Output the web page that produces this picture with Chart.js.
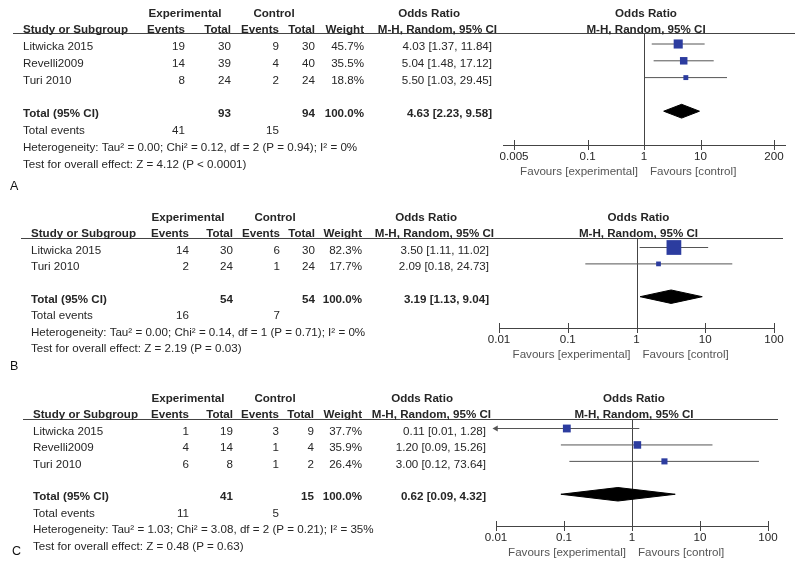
<!DOCTYPE html>
<html>
<head>
<meta charset="utf-8">
<script src="https://cdn.jsdelivr.net/npm/chart.js@4.4.1/dist/chart.umd.min.js"></script>
<style>
  body { margin: 0; background: #fff; }
  #wrap { position: relative; width: 800px; height: 563px; overflow: hidden; }
  #wrap canvas { position: absolute; left: 0; }
</style>
</head>
<body>
<div id="wrap">
  <canvas id="cvA" width="800" height="195" style="top:0px"></canvas>
  <canvas id="cvB" width="800" height="180" style="top:195px"></canvas>
  <canvas id="cvC" width="800" height="188" style="top:375px"></canvas>
</div>
<script>
// ---- Panel A ----
const studiesA   = ["Litwicka 2015", "Revelli2009", "Turi 2010"];
const expEventsA = [19, 14, 8];
const expTotalA  = [30, 39, 24];
const ctlEventsA = [9, 4, 2];
const ctlTotalA  = [30, 40, 24];
const weightA    = [45.7, 35.5, 18.8];
const orA        = [4.03, 5.04, 5.50];
const loA        = [1.37, 1.48, 1.03];
const hiA        = [11.84, 17.12, 29.45];
const totalsA    = [41, 93, 15, 94];          // exp events, exp total, ctl events, ctl total
const pooledA    = [4.63, 2.23, 9.58];        // OR, lower, upper
const hetA       = "Heterogeneity: Tau² = 0.00; Chi² = 0.12, df = 2 (P = 0.94); I² = 0%";
const testA      = "Test for overall effect: Z = 4.12 (P < 0.0001)";
const ticksA     = [0.005, 0.1, 1, 10, 200];
const tickLabA   = ["0.005", "0.1", "1", "10", "200"];

// ---- Panel B ----
const studiesB   = ["Litwicka 2015", "Turi 2010"];
const expEventsB = [14, 2];
const expTotalB  = [30, 24];
const ctlEventsB = [6, 1];
const ctlTotalB  = [30, 24];
const weightB    = [82.3, 17.7];
const orB        = [3.50, 2.09];
const loB        = [1.11, 0.18];
const hiB        = [11.02, 24.73];
const totalsB    = [16, 54, 7, 54];
const pooledB    = [3.19, 1.13, 9.04];
const hetB       = "Heterogeneity: Tau² = 0.00; Chi² = 0.14, df = 1 (P = 0.71); I² = 0%";
const testB      = "Test for overall effect: Z = 2.19 (P = 0.03)";
const ticksB     = [0.01, 0.1, 1, 10, 100];
const tickLabB   = ["0.01", "0.1", "1", "10", "100"];

// ---- Panel C ----
const studiesC   = ["Litwicka 2015", "Revelli2009", "Turi 2010"];
const expEventsC = [1, 4, 6];
const expTotalC  = [19, 14, 8];
const ctlEventsC = [3, 1, 1];
const ctlTotalC  = [9, 4, 2];
const weightC    = [37.7, 35.9, 26.4];
const orC        = [0.11, 1.20, 3.00];
const loC        = [0.01, 0.09, 0.12];
const hiC        = [1.28, 15.26, 73.64];
const totalsC    = [11, 41, 5, 15];
const pooledC    = [0.62, 0.09, 4.32];
const hetC       = "Heterogeneity: Tau² = 1.03; Chi² = 3.08, df = 2 (P = 0.21); I² = 35%";
const testC      = "Test for overall effect: Z = 0.48 (P = 0.63)";
const ticksC     = ticksB;
const tickLabC   = tickLabB;

const BLUE  = "#2c3c9f";
const LINE  = "#555";
const AXIS  = "#444";
const INK   = "#262626";
const MUTED = "#555";
const FONT  = '"Liberation Sans", Arial, sans-serif';
const FSIZE = 11.6;
const X_AXIS_H = 20;

const fmt    = (v) => v.toFixed(2);
const ciText = (o, l, h) => `${fmt(o)} [${fmt(l)}, ${fmt(h)}]`;

function tablePlugin(p) {
  return {
    id: "tabla" + p.label,
    beforeDatasetsDraw(chart) {
      const { ctx, chartArea: a, scales: { x } } = chart;
      const one = Math.round(x.getPixelForValue(1)) + 0.5;
      ctx.save();
      ctx.strokeStyle = AXIS;
      ctx.lineWidth = 1;
      ctx.beginPath();
      ctx.moveTo(one, a.top); ctx.lineTo(one, a.bottom);
      ctx.moveTo(p.lineL, Math.round(a.top) + 0.5); ctx.lineTo(p.lineR, Math.round(a.top) + 0.5);
      ctx.stroke();
      ctx.restore();
    },
    afterDraw(chart) {
      const { ctx, chartArea: a, scales: { x, y } } = chart;
      const one = x.getPixelForValue(1);
      const n = p.studies.length;
      const rowY = (i) => y.getPixelForValue(i) + 3;
      const put = (t, px, py, align, bold, color) => {
        ctx.font = `${bold ? "bold " : ""}${FSIZE}px ${FONT}`;
        ctx.fillStyle = color || INK;
        ctx.textAlign = align;
        ctx.textBaseline = "middle";
        ctx.fillText(t, px, py);
      };
      const c = p.cols;
      ctx.save();

      // marcas del eje
      ctx.strokeStyle = AXIS;
      ctx.lineWidth = 1;
      ctx.beginPath();
      x.ticks.forEach((t) => {
        const px = Math.round(x.getPixelForValue(t.value)) + 0.5;
        ctx.moveTo(px, a.bottom - 5); ctx.lineTo(px, a.bottom + 5);
      });
      ctx.stroke();

      // cabeceras
      let yy = rowY(-2);
      put("Experimental", p.expHdX, yy, "center", true);
      put("Control", p.ctlHdX, yy, "center", true);
      put("Odds Ratio", p.orHd[0], yy, "right", true);
      put("Odds Ratio", one + 2, yy, "center", true);
      yy = rowY(-1);
      put("Study or Subgroup", p.studyX, yy, "left", true);
      ["Events", "Total", "Events", "Total", "Weight"].forEach((h, k) => put(h, c[k], yy, "right", true));
      put("M-H, Random, 95% CI", p.orHd[1], yy, "right", true);
      put("M-H, Random, 95% CI", one + 2, yy, "center", true);

      // estudios
      p.studies.forEach((s, i) => {
        const ry = rowY(i);
        put(s, p.studyX, ry, "left");
        put(String(p.expEvents[i]), c[0], ry, "right");
        put(String(p.expTotal[i]),  c[1], ry, "right");
        put(String(p.ctlEvents[i]), c[2], ry, "right");
        put(String(p.ctlTotal[i]),  c[3], ry, "right");
        put(p.weight[i].toFixed(1) + "%", c[4], ry, "right");
        put(ciText(p.or[i], p.lo[i], p.hi[i]), c[5], ry, "right");
      });

      // totales
      yy = rowY(n + 1);
      put("Total (95% CI)", p.studyX, yy, "left", true);
      put(String(p.totals[1]), c[1], yy, "right", true);
      put(String(p.totals[3]), c[3], yy, "right", true);
      put("100.0%", c[4], yy, "right", true);
      put(ciText(...p.pooled), c[5], yy, "right", true);
      yy = rowY(n + 2);
      put("Total events", p.studyX, yy, "left");
      put(String(p.totals[0]), c[0], yy, "right");
      put(String(p.totals[2]), c[2], yy, "right");
      put(p.het, p.studyX, rowY(n + 3), "left");
      put(p.test, p.studyX, rowY(n + 4), "left");

      // favours
      put("Favours [experimental]", one - 6, a.bottom + 27, "right", false, MUTED);
      put("Favours [control]", one + 6, a.bottom + 27, "left", false, MUTED);

      // letra del panel
      ctx.font = `12.5px ${FONT}`;
      ctx.fillStyle = "#111";
      ctx.textAlign = "left";
      ctx.textBaseline = "middle";
      ctx.fillText(p.label, p.labelX, p.labelY - p.top);
      ctx.restore();
    },
  };
}

function renderPanel(id, p) {
  const n = p.studies.length;
  const yMin = -(p.row0Y - p.headerY) / p.rowH;
  const yMax = (p.axisY - p.row0Y) / p.rowH;
  const pooledRow = n + 1;
  const half = 0.41;

  const datasets = [
    {
      type: "scatter", data: p.or.map((v, i) => ({ x: v, y: i })),
      pointStyle: "rect", pointRadius: p.weight.map((w) => (2 + 0.155 * w) / Math.SQRT2),
      backgroundColor: BLUE, borderWidth: 0, order: 0, clip: false,
    },
    {
      type: "line", showLine: true, fill: "shape", tension: 0,
      data: [
        { x: p.pooled[1], y: pooledRow },
        { x: p.pooled[0], y: pooledRow - half },
        { x: p.pooled[2], y: pooledRow },
        { x: p.pooled[0], y: pooledRow + half },
        { x: p.pooled[1], y: pooledRow },
      ],
      borderColor: "#000", backgroundColor: "#000", borderWidth: 1, pointRadius: 0, order: 1,
    },
  ];
  p.or.forEach((v, i) => {
    const cut = p.lo[i] <= p.xMin;
    datasets.push({
      type: "line", showLine: true, fill: false,
      data: [{ x: Math.max(p.lo[i], p.xMin), y: i }, { x: p.hi[i], y: i }],
      borderColor: LINE, borderWidth: 1,
      pointRadius: [cut ? 3.5 : 0, 0], pointStyle: "triangle", rotation: -90,
      pointBackgroundColor: LINE, pointBorderWidth: 0, order: 2, clip: false,
    });
  });

  new Chart(document.getElementById(id), {
    type: "scatter",
    data: { datasets },
    plugins: [tablePlugin(p)],
    options: {
      responsive: false, animation: false, events: [],
      layout: {
        padding: {
          left: p.areaL, right: 800 - p.areaR,
          top: p.headerY - p.top,
          bottom: p.top + p.height - p.axisY - X_AXIS_H,
        },
      },
      plugins: { legend: { display: false }, tooltip: { enabled: false } },
      scales: {
        x: {
          type: "logarithmic", min: p.xMin, max: p.xMax,
          afterBuildTicks: (s) => { s.ticks = p.ticks.map((v) => ({ value: v })); },
          afterFit: (s) => { s.height = X_AXIS_H; },
          grid: { display: false, drawTicks: false },
          border: { display: true, color: AXIS, width: 1 },
          ticks: {
            autoSkip: false, maxRotation: 0, padding: 5, color: INK,
            font: { size: FSIZE, family: FONT },
            callback: (v, i) => p.tickLabels[i],
          },
        },
        y: { type: "linear", display: false, reverse: true, min: yMin, max: yMax },
      },
    },
  });
}

renderPanel("cvA", {
  studies: studiesA, expEvents: expEventsA, expTotal: expTotalA, ctlEvents: ctlEventsA, ctlTotal: ctlTotalA,
  weight: weightA, or: orA, lo: loA, hi: hiA, totals: totalsA, pooled: pooledA, het: hetA, test: testA,
  ticks: ticksA, tickLabels: tickLabA,
  label: "A", labelX: 10, labelY: 187, top: 0, height: 195,
  headerY: 33, row0Y: 44, rowH: 16.8, axisY: 145, areaL: 503, areaR: 785, xMin: 0.00319, xMax: 313,
  studyX: 23, cols: [185, 231, 279, 315, 364, 492], expHdX: 185, ctlHdX: 274, orHd: [460, 497], lineL: 13, lineR: 795,
});

renderPanel("cvB", {
  studies: studiesB, expEvents: expEventsB, expTotal: expTotalB, ctlEvents: ctlEventsB, ctlTotal: ctlTotalB,
  weight: weightB, or: orB, lo: loB, hi: hiB, totals: totalsB, pooled: pooledB, het: hetB, test: testB,
  ticks: ticksB, tickLabels: tickLabB,
  label: "B", labelX: 10, labelY: 367, top: 195, height: 180,
  headerY: 238, row0Y: 247.5, rowH: 16.4, axisY: 328, areaL: 499, areaR: 774, xMin: 0.01, xMax: 100,
  studyX: 31, cols: [189, 233, 280, 315, 362, 489], expHdX: 188, ctlHdX: 275, orHd: [457, 494], lineL: 21, lineR: 783,
});

renderPanel("cvC", {
  studies: studiesC, expEvents: expEventsC, expTotal: expTotalC, ctlEvents: ctlEventsC, ctlTotal: ctlTotalC,
  weight: weightC, or: orC, lo: loC, hi: hiC, totals: totalsC, pooled: pooledC, het: hetC, test: testC,
  ticks: ticksC, tickLabels: tickLabC,
  label: "C", labelX: 12, labelY: 552, top: 375, height: 188,
  headerY: 419, row0Y: 428.5, rowH: 16.44, axisY: 526, areaL: 496, areaR: 768, xMin: 0.01, xMax: 100,
  studyX: 33, cols: [189, 233, 279, 314, 362, 486], expHdX: 188, ctlHdX: 275, orHd: [453, 491], lineL: 23, lineR: 778,
});
</script>
</body>
</html>
